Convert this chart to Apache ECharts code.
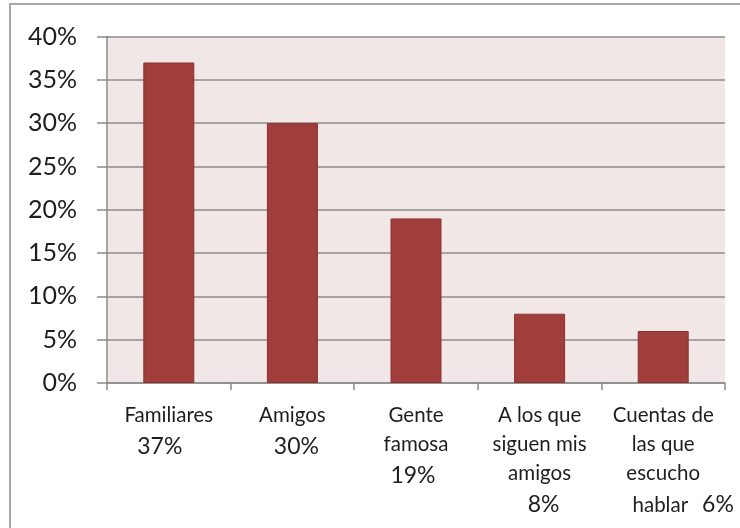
<!DOCTYPE html>
<html>
<head>
<meta charset="utf-8">
<script src="https://cdn.jsdelivr.net/npm/echarts@6/dist/echarts.min.js"></script>
<style>
  html, body { margin: 0; padding: 0; background: #ffffff; }
  #chart { width: 740px; height: 528px; }
</style>
</head>
<body>
<div id="chart"></div>
<script>
// Category names, one entry per line of the axis label
const categoryLines = [
  ['Familiares'],
  ['Amigos'],
  ['Gente', 'famosa'],
  ['A los que', 'siguen mis', 'amigos'],
  ['Cuentas de', 'las que', 'escucho', 'hablar']
];
// Share of respondents per category (%)
const values = [37, 30, 19, 8, 6];
// Y axis scale
const yMin = 0;
const yMax = 40;
const yStep = 5;

// Horizontal nudge of the percentage under each category (px, + = right)
const pctShift = [-9, 4, -3, 4, 0];
// The last percentage sits on the same line as the final word
const pctInline = [false, false, false, false, true];

const categories = categoryLines.map(l => l.join(' '));

function labelFor(name, idx) {
  const lines = categoryLines[idx].map(s => '{c|' + s + '}');
  const pct = values[idx] + '%';
  if (pctInline[idx]) {
    lines[lines.length - 1] = '{pad|}' + lines[lines.length - 1] + '{gap|}{p|' + pct + '}';
  } else {
    lines.push('{p' + idx + '|' + pct + '}');
  }
  return lines.join('\n');
}

const textColor = '#1e1e1e';
const rich = {
  c: { fontFamily: 'Lato', fontSize: 20.5, lineHeight: 29, color: textColor },
  p: { fontFamily: 'Lato', fontSize: 23, lineHeight: 34, color: textColor },
  gap: { width: 14 },
  pad: { width: 40 }
};
pctShift.forEach((s, i) => {
  rich['p' + i] = {
    fontFamily: 'Lato', fontSize: 23, lineHeight: 34, color: textColor,
    padding: s < 0 ? [0, -2 * s, 0, 0] : [0, 0, 0, 2 * s]
  };
});

const chart = echarts.init(document.getElementById('chart'), null, { renderer: 'canvas' });
chart.setOption({
  animation: false,
  backgroundColor: '#ffffff',
  graphic: [{
    type: 'rect',
    shape: { x: 10, y: 4, width: 800, height: 600 },
    style: { fill: 'none', stroke: '#a9a9a9', lineWidth: 2 },
    silent: true
  }],
  grid: {
    left: 107, right: 15, top: 36.5, bottom: 145,
    show: true, backgroundColor: '#f2e7e7', borderWidth: 0
  },
  xAxis: {
    type: 'category',
    data: categories,
    axisLine: { show: true, lineStyle: { color: '#8c8c8c', width: 1.5 } },
    axisTick: { show: true, length: 7, alignWithLabel: false, lineStyle: { color: '#8c8c8c', width: 1.5 } },
    axisLabel: {
      interval: 0,
      margin: 18,
      formatter: labelFor,
      rich: rich
    }
  },
  yAxis: {
    type: 'value',
    min: yMin, max: yMax, interval: yStep,
    axisLine: { show: true, lineStyle: { color: '#8c8c8c', width: 1.5 } },
    axisTick: { show: true, length: 10, lineStyle: { color: '#8c8c8c', width: 1.5 } },
    splitLine: { show: true, lineStyle: { color: '#8c8c8c', width: 1.5 } },
    axisLabel: {
      formatter: '{value}%',
      fontFamily: 'Lato', fontSize: 25, color: textColor, margin: 30
    }
  },
  series: [{
    type: 'bar',
    data: values,
    barWidth: 51,
    itemStyle: { color: '#a03e3c', borderColor: '#8a3230', borderWidth: 1 }
  }]
});
</script>
</body>
</html>
